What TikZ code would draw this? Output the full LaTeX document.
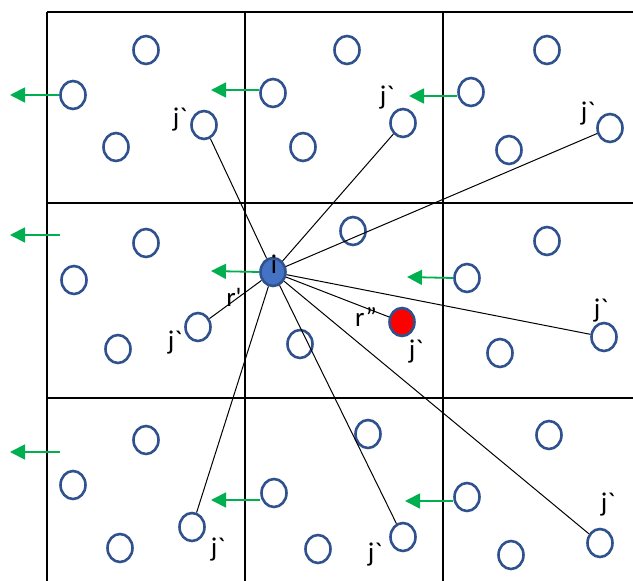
\documentclass[tikz,border=0pt]{standalone}
\usepackage{fontspec}
\setmainfont{Carlito}[Ligatures=TeXOff]
\usetikzlibrary{shapes.geometric,arrows.meta}
\definecolor{cblue}{HTML}{2F528F}
\definecolor{ifill}{HTML}{4472C4}
\definecolor{agreen}{HTML}{00B050}
\begin{document}
\begin{tikzpicture}[x=1pt,y=-1pt,
  part/.style={ellipse,draw=cblue,line width=2.6pt,minimum width=25pt,minimum height=28pt,inner sep=0pt},
  grid/.style={line width=2.4pt,black},
  link/.style={line width=1pt,black},
  garrow/.style={draw=agreen,line width=1.8pt,-{Triangle[length=15pt,width=15pt]}},
  lbl/.style={font=\fontsize{27}{30}\selectfont,inner sep=0pt}]
\useasboundingbox (0,0) rectangle (633,581);
% grid
\draw[grid] (47,12) -- (633,12);
\draw[grid] (47,203) -- (633,203);
\draw[grid] (47,398) -- (633,398);
\draw[grid] (47,12) -- (47,581);
\draw[grid] (245,12) -- (245,581);
\draw[grid] (443,12) -- (443,581);
% particles
\node[part] (A1) at (146,50) {};
\node[part] (A2) at (73,95) {};
\node[part] (A3) at (116,147) {};
\node[part] (A4) at (204,125) {};
\node[part] (B1) at (347,50) {};
\node[part] (B2) at (273,93) {};
\node[part] (B3) at (303,147) {};
\node[part] (B4) at (403,123) {};
\node[part] (C1) at (547,50) {};
\node[part] (C2) at (471,92) {};
\node[part] (C3) at (509,150) {};
\node[part] (C4) at (610,128) {};
\node[part] (D1) at (146,243) {};
\node[part] (D2) at (74,280) {};
\node[part] (D3) at (118,349) {};
\node[part] (D4) at (198,327) {};
\node[part,fill=ifill] (I) at (273,272) {};
\node[part] (E1) at (353,231) {};
\node[part] (E2) at (300,344) {};
\node[part,fill=red] (R) at (402,322) {};
\node[part] (F1) at (547,241) {};
\node[part] (F2) at (467,278) {};
\node[part] (F3) at (500,353) {};
\node[part] (F4) at (604,337) {};
\node[part] (G1) at (146,440) {};
\node[part] (G2) at (73,485) {};
\node[part] (G3) at (120,548) {};
\node[part] (G4) at (192,527) {};
\node[part] (H1) at (368,434) {};
\node[part] (H2) at (274,493) {};
\node[part] (H3) at (318,549) {};
\node[part] (H4) at (403,537) {};
\node[part] (K1) at (549,435) {};
\node[part] (K2) at (467,497) {};
\node[part] (K3) at (511,555) {};
\node[part] (K4) at (600,543) {};
% links
\foreach \t in {A4,B4,C4,D4,R,F4,G4,H4,K4} \draw[link] (I) -- (\t);
% arrows
\coordinate (tA) at (10,95);
\coordinate (tB) at (211,90);
\coordinate (tC) at (409,96);
\coordinate (sD) at (60,235);
\coordinate (tD) at (10,235);
\coordinate (tI) at (211,271);
\coordinate (tF) at (407,277);
\coordinate (sG) at (60,452);
\coordinate (tG) at (10,452);
\coordinate (tH) at (211,500);
\coordinate (tK) at (405,501);
\draw[garrow] (A2.west) -- (tA);
\draw[garrow] (B2.west |- tB) -- (tB);
\draw[garrow] (C2.west |- tC) -- (tC);
\draw[garrow] (sD) -- (tD);
\draw[garrow] (I.west) -- (tI);
\draw[garrow] (F2.west) -- (tF);
\draw[garrow] (sG) -- (tG);
\draw[garrow] (H2.west |- tH) -- (tH);
\draw[garrow] (K2.west |- tK) -- (tK);
% labels
\node[lbl] (lA) at (180,120) {j`};
\node[lbl] (lB) at (387,98) {j`};
\node[lbl] (lC) at (588,114) {j`};
\node[lbl] (lD) at (175,343) {j`};
\node[lbl] (li) at (274,264) {i};
\node[lbl] (lr1) at (234,297) {r'};
\node[lbl] (lr2) at (366,317) {r”};
\node[lbl] (lR) at (416,352) {j`};
\node[lbl] (lF) at (601,311) {j`};
\node[lbl] (lG) at (218,550) {j`};
\node[lbl] (lH) at (375,555) {j`};
\node[lbl] (lK) at (608,505) {j`};
\end{tikzpicture}
\end{document}
